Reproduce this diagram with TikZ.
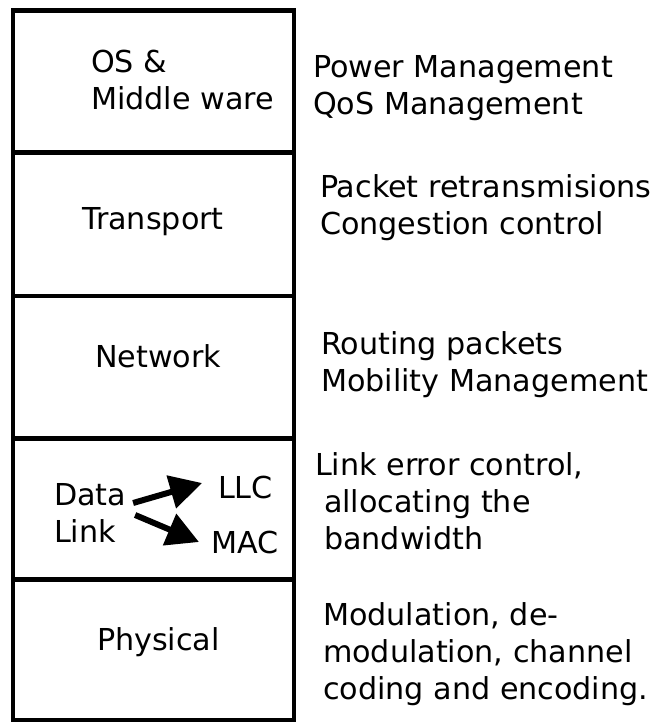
\documentclass[tikz,border=0pt]{standalone}
\usepackage{fontspec}
\setmainfont{DejaVu Sans}
\usetikzlibrary{arrows.meta}

\begin{document}
\begin{tikzpicture}[x=1pt,y=-1pt,
  every node/.style={inner sep=0pt, outer sep=0pt, font=\fontsize{30.2}{37}\selectfont},
  txt/.style={anchor=base west, align=left},
  dlarrow/.style={line width=6pt, -{Triangle[length=32pt,width=33pt]}}]
\useasboundingbox (0,0) rectangle (656,722);
% the stack of layers
\draw[line width=4.5pt] (13,10.7) rectangle (294,720);
\foreach \y in {152.7,296,438.3,579.3}
  \draw[line width=4.5pt] (13,\y) -- (294,\y);
% layer names (base = last line)
\node[txt] (os) at (91,110) {OS \&\\Middle ware};
\node[txt] (transport) at (82,229) {Transport};
\node[txt] (network) at (95,367) {Network};
\node[txt] (datalink) at (54,542) {Data\\Link};
\node[txt] (llc) at (218,498) {LLC};
\node[txt] (mac) at (211,553) {MAC};
\node[txt] (physical) at (97,650) {Physical};
\draw[dlarrow] ([xshift=7pt,yshift=9.5pt]datalink.east) -- ([xshift=-16pt,yshift=4pt]llc.west);
\draw[dlarrow] ([xshift=9pt,yshift=-2.5pt]datalink.east) -- ([xshift=-12pt]mac.west);
% what each layer does
\node[txt] (ostasks) at (313,115) {Power Management\\QoS Management};
\node[txt] (transtasks) at (320,234) {Packet retransmisions\\Congestion control};
\node[txt] (nettasks) at (321,391) {Routing packets\\Mobility Management};
\node[txt] (linktasks) at (315,549) {Link error control,\\\hspace*{9pt}allocating the\\\hspace*{9pt}bandwidth};
\node[txt] (phytasks) at (323,699) {Modulation, de-\\modulation, channel\\coding and encoding.};
\end{tikzpicture}
\end{document}
